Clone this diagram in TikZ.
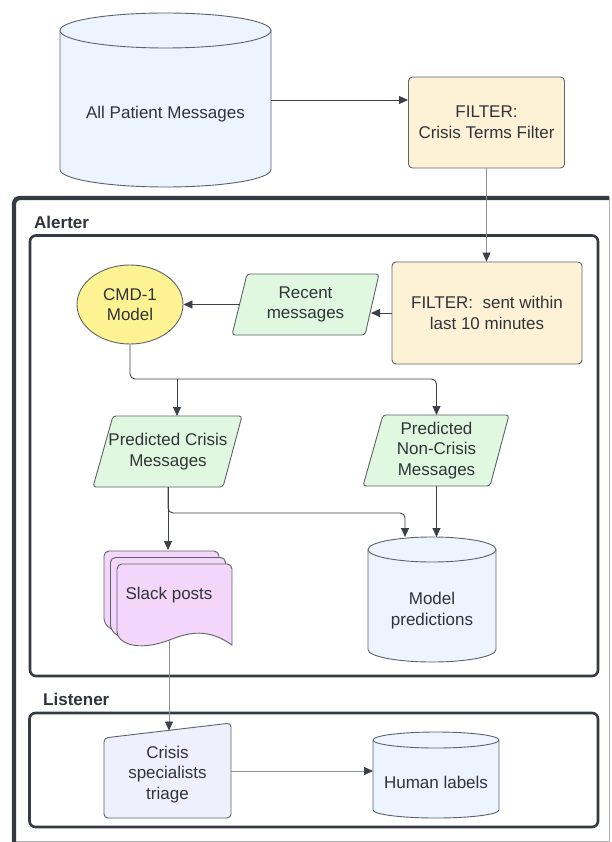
\documentclass[tikz,border=0pt]{standalone}
\usepackage{fontspec}
\setmainfont{Liberation Sans}
\usetikzlibrary{arrows.meta,shapes.geometric}
\definecolor{ink}{HTML}{30343A}
\definecolor{edge}{HTML}{5E636A}
\definecolor{wire}{HTML}{3C4048}
\definecolor{wirelight}{HTML}{8E9298}
\definecolor{framec}{HTML}{363B43}
\definecolor{cylfill}{HTML}{EBF4FF}
\definecolor{filtfill}{HTML}{FEF2D6}
\definecolor{greenfill}{HTML}{E1F8E0}
\definecolor{yelfill}{HTML}{FEF392}
\definecolor{pinkfill}{HTML}{F3D6F9}
\definecolor{lavfill}{HTML}{EFEFFD}

\newcommand\drawcyl[6]{% L T R B ry rx
  \path[shapeline, fill=cylfill] (#1,#2+#5) -- (#1,#4-#5)
     arc[start angle=180, end angle=360, x radius=#6pt, y radius=#5pt]
     -- (#3,#2+#5)
     arc[start angle=0, end angle=180, x radius=#6pt, y radius=#5pt] -- cycle;
  \draw[shapeline] (#1,#2+#5) arc[start angle=180, end angle=360, x radius=#6pt, y radius=#5pt];
}
\newcommand\slackpage[2]{%
  \draw[shapeline, fill=pinkfill, shift={(#1,#2)}, rounded corners=5pt]
    (232,600) -- (232,564) -- (117,564) -- (117,636) [sharp corners]
    .. controls (130,648) and (150,648) .. (172,639)
    .. controls (195,630) and (212,631) .. (232,645) -- cycle;
}

\begin{document}
\begin{tikzpicture}[x=1pt,y=-1pt,
  txt/.style={font=\fontsize{17}{20.7}\selectfont, text=ink, align=center, inner sep=0pt},
  lbl/.style={font=\fontsize{17}{20}\selectfont\bfseries, text=ink, anchor=west, inner sep=0pt},
  anchorbox/.style={txt, draw=none, outer sep=0pt},
  shapeline/.style={draw=edge, line width=0.9pt},
  filterbox/.style={txt, shapeline, fill=filtfill, rectangle, rounded corners=4pt},
  arr/.style={draw=wire, line width=0.9pt, -{Triangle[length=9pt,width=8pt]}},
  arrlight/.style={draw=wirelight, line width=0.9pt, -{Triangle[length=9pt,width=8pt,color=wire]}},
  group/.style={draw=framec, line width=2.6pt, rounded corners=6pt},
]
\useasboundingbox (0,0) rectangle (611,842);
\fill[white] (0,0) rectangle (611,842);

% outer frame
\draw[line width=1pt, color=black!30] (14,198) rectangle (609.5,841);
\draw[draw=framec, line width=4.3pt, rounded corners=6pt] (14,850) -- (14,198) -- (609,198);

% groups
\draw[group] (30,235.5) rectangle (598,676);
\draw[group] (29.5,713) rectangle (598,827);
\node[lbl] (alerter) at (34,222) {Alerter};
\node[lbl] (listener) at (43,699) {Listener};

% cylinders
\drawcyl{60}{13}{271}{187}{17.5}{105.5}
\node[anchorbox, minimum width=211pt, minimum height=174pt,
      label={[txt,yshift=-14pt]center:All Patient Messages}] (pm) at (165.5,100) {};
\drawcyl{368}{537}{496}{662}{12.5}{64}
\node[anchorbox, minimum width=128pt, minimum height=125pt,
      label={[txt,yshift=-11pt]center:Model\\predictions}] (md) at (432,599.5) {};
\drawcyl{373}{732}{499}{818}{8}{63}
\node[anchorbox, minimum width=126pt, minimum height=86pt,
      label={[txt,yshift=-7pt]center:Human labels}] (hl) at (436,775) {};

% filters
\node[filterbox, minimum width=156pt, minimum height=91pt] (f1) at (486.5,122.5) {FILTER:\\Crisis Terms Filter};
\node[filterbox, minimum width=190pt, minimum height=102pt] (f2) at (487,313) {FILTER:\ \ sent within\\last 10 minutes};

% recent messages
\draw[shapeline, fill=greenfill, rounded corners=3pt] (247,274) -- (379,274) -- (365,335) -- (232,335) -- cycle;
\node[anchorbox, minimum width=131pt, minimum height=61pt] (rm) at (305.5,304.5) {Recent\\messages};

% model
\node[txt, ellipse, shapeline, fill=yelfill, minimum width=106pt, minimum height=79pt] (cmd) at (130,304.5) {CMD-1\\Model};

% predicted
\draw[shapeline, fill=greenfill, rounded corners=3pt] (113,416) -- (242,416) -- (223,487) -- (93,487) -- cycle;
\node[anchorbox, minimum width=130pt, minimum height=71pt] (pc) at (168,451.5) {Predicted Crisis\\Messages};
\draw[shapeline, fill=greenfill, rounded corners=3pt] (383,415) -- (509,415) -- (490,486) -- (363,486) -- cycle;
\node[anchorbox, minimum width=127pt, minimum height=71pt] (pn) at (436.5,450.5) {Predicted\\Non-Crisis\\Messages};

% slack posts
\slackpage{-13}{-13}
\slackpage{-6.5}{-6.5}
\slackpage{0}{0}
\node[anchorbox, minimum width=115pt, minimum height=90pt] (sl) at (169,595) {Slack posts};

% triage
\draw[shapeline, fill=lavfill, rounded corners=4pt] (104,738) -- (231,723) -- (231,818) -- (104,818) -- cycle;
\node[anchorbox, minimum width=127pt, minimum height=88pt] (tr) at (167.5,774.5) {Crisis\\specialists\\triage};

% connectors
\coordinate (j1) at (177,379);
\coordinate (j2) at (436.5,379);
\coordinate (j3) at (405,513);
\draw[arr] (pm.east) -- (pm.east -| f1.west);
\draw[arrlight] (f1.south) -- (f1.south |- f2.north);
\draw[arr] (f2.west) -- (f2.west -| rm.east);
\draw[arr] (rm.west) -- (rm.west -| cmd.east);
\draw[arr, rounded corners=5pt] (cmd.south) |- (j2) -- (j2 |- pn.north);
\draw[arr] (j1) -- (j1 |- pc.north);
\draw[arr] (pc.south) -- (pc.south |- sl.north);
\draw[arr, rounded corners=5pt] (pc.south) |- (j3) -- (j3 |- md.north);
\draw[arr] (pn.south) -- (pn.south |- md.north);
\draw[arrlight] (sl.south) -- (sl.south |- tr.north);
\draw[arrlight] ([yshift=3.5pt]tr.east) -- ([yshift=3.5pt]tr.east -| hl.west);
\end{tikzpicture}
\end{document}
